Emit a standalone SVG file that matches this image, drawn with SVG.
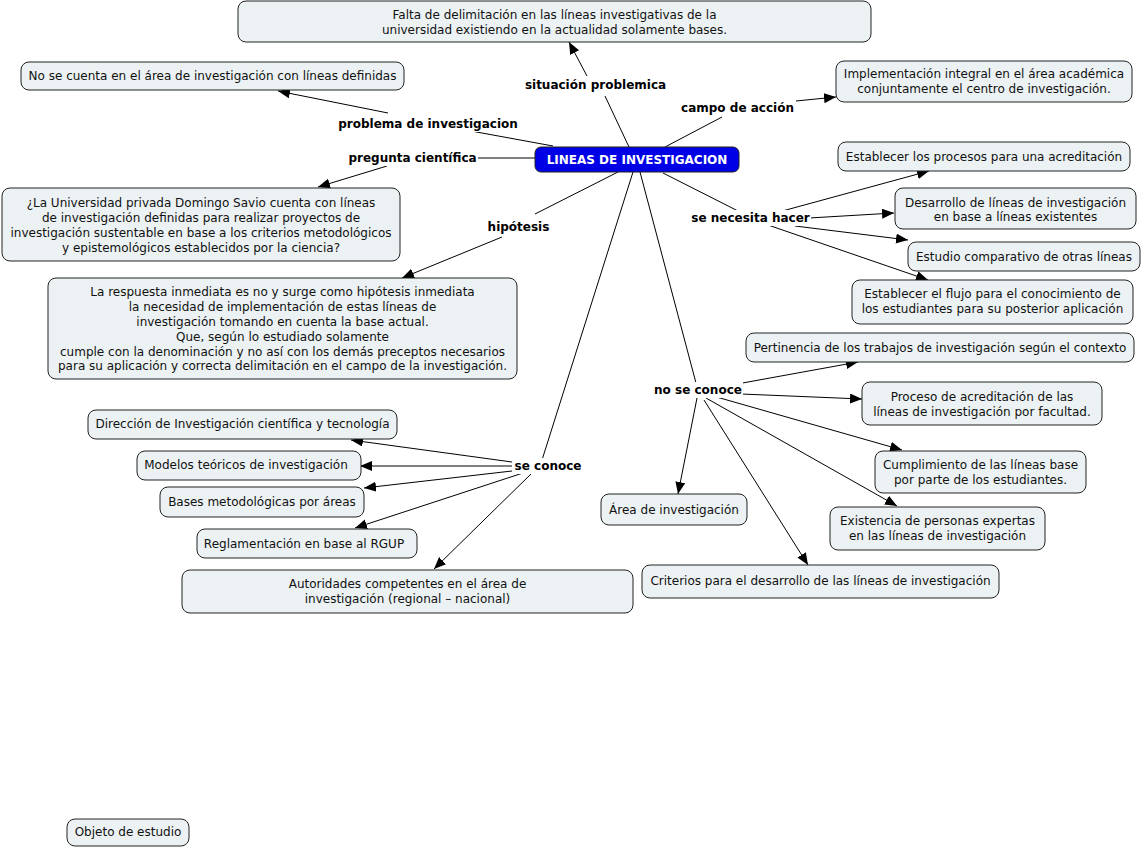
<svg xmlns="http://www.w3.org/2000/svg" width="1142" height="848" viewBox="0 0 1142 848">
<defs>
<marker id="arr" markerWidth="13" markerHeight="11" refX="12" refY="5" orient="auto" markerUnits="userSpaceOnUse">
<path d="M0,0 L12,5 L0,10 Z" fill="#000"/>
</marker>
<style>
.n rect{fill:#ecf2f4;stroke:#222;stroke-width:1}
.n text{font-family:"DejaVu Sans",Verdana,sans-serif;font-size:12px;fill:#111;text-anchor:middle}
.c rect{fill:#0000e6;stroke:#222;stroke-width:1}
.c text{font-family:"DejaVu Sans",Verdana,sans-serif;font-size:12px;font-weight:bold;fill:#fff;text-anchor:middle}
.l text{font-family:"DejaVu Sans",Verdana,sans-serif;font-size:12px;font-weight:bold;fill:#000;text-anchor:middle}
#connectors line{stroke:#000;stroke-width:1}
#connectors line.a{marker-end:url(#arr)}
</style>
</defs>
<rect width="1142" height="848" fill="#fff"/>
<g id="connectors">
<line x1="629" y1="147" x2="605" y2="96"/>
<line class="a" x1="587" y1="76" x2="569" y2="42"/>
<line x1="665" y1="147" x2="722" y2="117"/>
<line class="a" x1="796" y1="101" x2="836" y2="97"/>
<line x1="553" y1="146" x2="471" y2="131"/>
<line class="a" x1="388" y1="113" x2="278" y2="91"/>
<line x1="535" y1="158" x2="476" y2="158"/>
<line class="a" x1="387" y1="166" x2="318" y2="187"/>
<line x1="618" y1="172" x2="535" y2="214"/>
<line class="a" x1="502" y1="237" x2="402" y2="278"/>
<line x1="663" y1="173" x2="740" y2="212"/>
<line class="a" x1="775" y1="213" x2="929" y2="171"/>
<line class="a" x1="809" y1="218" x2="894" y2="213"/>
<line class="a" x1="795" y1="226" x2="908" y2="240"/>
<line class="a" x1="768" y1="225" x2="928" y2="280"/>
<line x1="640" y1="172" x2="696" y2="383"/>
<line class="a" x1="726" y1="386" x2="858" y2="362"/>
<line class="a" x1="741" y1="394" x2="862" y2="399"/>
<line class="a" x1="713" y1="396" x2="902" y2="450"/>
<line class="a" x1="706" y1="398" x2="897" y2="506"/>
<line class="a" x1="697" y1="398" x2="678" y2="494"/>
<line class="a" x1="704" y1="400" x2="808" y2="565"/>
<line x1="633" y1="172" x2="542" y2="460"/>
<line class="a" x1="512" y1="462" x2="351" y2="440"/>
<line class="a" x1="512" y1="466" x2="360" y2="466"/>
<line class="a" x1="512" y1="471" x2="364" y2="488"/>
<line class="a" x1="526" y1="472" x2="355" y2="528"/>
<line class="a" x1="532" y1="473" x2="434" y2="569"/>
</g>
<g id="lbl-situacion" class="l"><rect x="524" y="77" width="143" height="16" fill="#fff"/><text x="595.5" y="89">situación problemica</text></g>
<g id="lbl-campo" class="l"><rect x="680" y="100" width="115" height="16" fill="#fff"/><text x="737.5" y="112">campo de acción</text></g>
<g id="lbl-problema" class="l"><rect x="337" y="116" width="182" height="16" fill="#fff"/><text x="428" y="128">problema de investigacion</text></g>
<g id="lbl-pregunta" class="l"><rect x="347" y="150" width="131" height="16" fill="#fff"/><text x="412.5" y="162">pregunta científica</text></g>
<g id="lbl-hipotesis" class="l"><rect x="486" y="219" width="65" height="16" fill="#fff"/><text x="518.5" y="231">hipótesis</text></g>
<g id="lbl-senecesita" class="l"><rect x="690" y="210" width="121" height="16" fill="#fff"/><text x="750.5" y="222">se necesita hacer</text></g>
<g id="lbl-noseconoce" class="l"><rect x="653" y="382" width="90" height="16" fill="#fff"/><text x="698" y="394">no se conoce</text></g>
<g id="lbl-seconoce" class="l"><rect x="513" y="458" width="70" height="16" fill="#fff"/><text x="548" y="470">se conoce</text></g>
<g id="n-falta" class="n"><rect x="238" y="1" width="633" height="41" rx="8"/><text x="554.5" y="19">Falta de delimitación en las líneas investigativas de la</text><text x="554.5" y="34">universidad existiendo en la actualidad solamente bases.</text></g>
<g id="n-nosecuenta" class="n"><rect x="21" y="62" width="383" height="28" rx="8"/><text x="212.5" y="80">No se cuenta en el área de investigación con líneas definidas</text></g>
<g id="n-implementacion" class="n"><rect x="836" y="61" width="296" height="41" rx="8"/><text x="984" y="78">Implementación integral en el área académica</text><text x="984" y="93">conjuntamente el centro de investigación.</text></g>
<g id="n-central" class="c"><rect x="535" y="147" width="204" height="25" rx="6"/><text x="637" y="164">LINEAS DE INVESTIGACION</text></g>
<g id="n-procesos" class="n"><rect x="838" y="142" width="292" height="29" rx="8"/><text x="984" y="161">Establecer los procesos para una acreditación</text></g>
<g id="n-desarrollo" class="n"><rect x="895" y="188" width="241" height="41" rx="8"/><text x="1015.5" y="207">Desarrollo de líneas de investigación</text><text x="1015.5" y="221">en base a líneas existentes</text></g>
<g id="n-estudio" class="n"><rect x="908" y="242" width="232" height="29" rx="8"/><text x="1024" y="261">Estudio comparativo de otras líneas</text></g>
<g id="n-flujo" class="n"><rect x="852" y="280" width="281" height="44" rx="8"/><text x="992.5" y="298">Establecer el flujo para el conocimiento de</text><text x="992.5" y="313">los estudiantes para su posterior aplicación</text></g>
<g id="n-pregunta" class="n"><rect x="2" y="188" width="398" height="73" rx="8"/><text x="201" y="207">¿La Universidad privada Domingo Savio cuenta con líneas</text><text x="201" y="222">de investigación definidas para realizar proyectos de</text><text x="201" y="237">investigación sustentable en base a los criterios metodológicos</text><text x="201" y="252">y epistemológicos establecidos por la ciencia?</text></g>
<g id="n-respuesta" class="n"><rect x="48" y="278" width="469" height="101" rx="8"/><text x="282.5" y="296">La respuesta inmediata es no y surge como hipótesis inmediata</text><text x="282.5" y="311">la necesidad de implementación de estas líneas de</text><text x="282.5" y="326">investigación tomando en cuenta la base actual.</text><text x="282.5" y="341">Que, según lo estudiado solamente</text><text x="282.5" y="356">cumple con la denominación y no así con los demás preceptos necesarios</text><text x="282.5" y="370">para su aplicación y correcta delimitación en el campo de la investigación.</text></g>
<g id="n-pertinencia" class="n"><rect x="746" y="333" width="388" height="29" rx="8"/><text x="940" y="352">Pertinencia de los trabajos de investigación según el contexto</text></g>
<g id="n-proceso" class="n"><rect x="862" y="382" width="240" height="43" rx="8"/><text x="982" y="401">Proceso de acreditación de las</text><text x="982" y="416">líneas de investigación por facultad.</text></g>
<g id="n-cumplimiento" class="n"><rect x="875" y="451" width="211" height="42" rx="8"/><text x="980.5" y="469">Cumplimiento de las líneas base</text><text x="980.5" y="484">por parte de los estudiantes.</text></g>
<g id="n-existencia" class="n"><rect x="830" y="507" width="215" height="43" rx="8"/><text x="937.5" y="525">Existencia de personas expertas</text><text x="937.5" y="540">en las líneas de investigación</text></g>
<g id="n-area" class="n"><rect x="601" y="494" width="146" height="31" rx="8"/><text x="674" y="514">Área de investigación</text></g>
<g id="n-criterios" class="n"><rect x="642" y="565" width="357" height="33" rx="8"/><text x="820.5" y="585">Criterios para el desarrollo de las líneas de investigación</text></g>
<g id="n-direccion" class="n"><rect x="88" y="410" width="309" height="29" rx="8"/><text x="242.5" y="428">Dirección de Investigación científica y tecnología</text></g>
<g id="n-modelos" class="n"><rect x="137" y="451" width="224" height="29" rx="8"/><text x="246" y="469">Modelos teóricos de investigación</text></g>
<g id="n-bases" class="n"><rect x="160" y="487" width="204" height="30" rx="8"/><text x="262" y="506">Bases metodológicas por áreas</text></g>
<g id="n-reglamentacion" class="n"><rect x="197" y="529" width="220" height="29" rx="8"/><text x="304" y="548">Reglamentación en base al RGUP</text></g>
<g id="n-autoridades" class="n"><rect x="182" y="570" width="451" height="43" rx="8"/><text x="407.5" y="588">Autoridades competentes en el área de</text><text x="407.5" y="603">investigación (regional – nacional)</text></g>
<g id="n-objeto" class="n"><rect x="67" y="819" width="122" height="27" rx="8"/><text x="128" y="836">Objeto de estudio</text></g>
</svg>
